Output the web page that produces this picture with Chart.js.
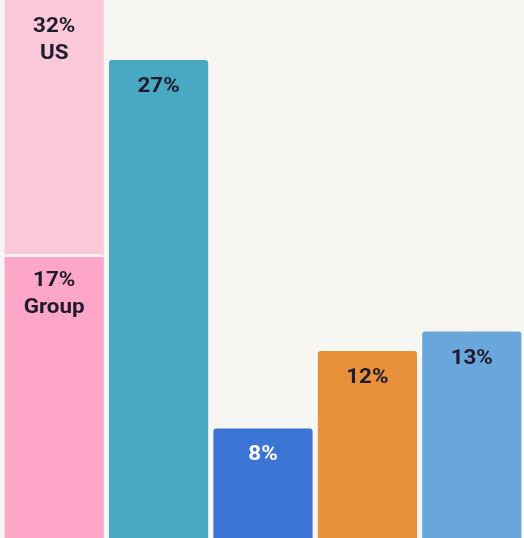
<!DOCTYPE html>
<html>
<head>
<meta charset="utf-8">
<script src="https://cdn.jsdelivr.net/npm/chart.js@4/dist/chart.umd.min.js"></script>
<style>
  html, body { margin: 0; padding: 0; background: #f8f6f2; }
  #wrap { width: 524px; height: 538px; overflow: hidden; }
</style>
</head>
<body>
<div id="wrap"><canvas id="c" width="524" height="538"></canvas></div>
<script>
// Categories along the bottom (axis itself is hidden)
const categories = ['c1', 'c2', 'c3', 'c4', 'c5'];

// First column: two overlapping shares, Group in front of US
const groupValues = [17, null, null, null, null];
const usValues    = [32, null, null, null, null];
const groupNames  = ['Group', '', '', '', ''];
const usNames     = ['US', '', '', '', ''];

// Remaining columns
const otherValues = [null, 27, 8, 12, 13];
const otherColors = ['#000', '#49a9c2', '#3b74d5', '#e8913a', '#68a6dc'];
const otherText   = ['#1e1b2c', '#1e1b2c', '#ffffff', '#1e1b2c', '#1e1b2c'];

// Visible window of the value axis
const yMin = 2.35;
const yMax = 30.1;

const labelPlugin = {
  id: 'barLabels',
  afterDatasetsDraw(chart) {
    const ctx = chart.ctx;
    const area = chart.chartArea;
    ctx.save();
    ctx.font = 'bold 20px Roboto';
    ctx.textAlign = 'center';
    ctx.textBaseline = 'middle';
    chart.data.datasets.forEach((ds, di) => {
      const meta = chart.getDatasetMeta(di);
      meta.data.forEach((el, i) => {
        const v = ds.data[i];
        if (v === null || v === undefined) return;
        const top = Math.max(el.y, area.top);
        const lines = [v + '%'];
        if (ds.names && ds.names[i]) lines.push(ds.names[i]);
        ctx.fillStyle = ds.textColors ? ds.textColors[i] : '#1e1b2c';
        lines.forEach((t, k) => {
          ctx.save();
          ctx.translate(el.x, top + 27 + k * 27);
          ctx.scale(1.12, 1);
          ctx.fillText(t, 0, 0);
          ctx.restore();
        });
      });
    });
    ctx.restore();
  }
};

const bgPlugin = {
  id: 'bg',
  beforeDraw(chart) {
    const ctx = chart.ctx;
    ctx.save();
    ctx.fillStyle = '#f8f6f2';
    ctx.fillRect(0, 0, chart.width, chart.height);
    ctx.restore();
  }
};

new Chart(document.getElementById('c'), {
  type: 'bar',
  data: {
    labels: categories,
    datasets: [
      {
        label: 'Group',
        data: groupValues,
        names: groupNames,
        backgroundColor: '#fda6c7',
        borderColor: '#fbf4f6',
        borderWidth: { top: 3, left: 0, right: 0, bottom: 0 },
        borderRadius: 3,
        borderSkipped: 'start',
        grouped: false,
        order: 0
      },
      {
        label: 'US',
        data: usValues,
        names: usNames,
        backgroundColor: '#fbc8da',
        borderWidth: 0,
        borderRadius: 3,
        borderSkipped: 'start',
        grouped: false,
        order: 1
      },
      {
        label: 'Other',
        data: otherValues,
        textColors: otherText,
        backgroundColor: otherColors,
        borderWidth: 0,
        borderRadius: 3,
        borderSkipped: 'start',
        grouped: false,
        order: 2
      }
    ]
  },
  options: {
    responsive: false,
    animation: false,
    layout: { padding: { left: 2, right: -2, top: 0, bottom: 0 } },
    datasets: { bar: { barPercentage: 0.95, categoryPercentage: 1.0 } },
    plugins: { legend: { display: false }, tooltip: { enabled: false } },
    scales: {
      x: { display: false },
      y: { display: false, min: yMin, max: yMax, beginAtZero: true }
    }
  },
  plugins: [bgPlugin, labelPlugin]
});
</script>
</body>
</html>
